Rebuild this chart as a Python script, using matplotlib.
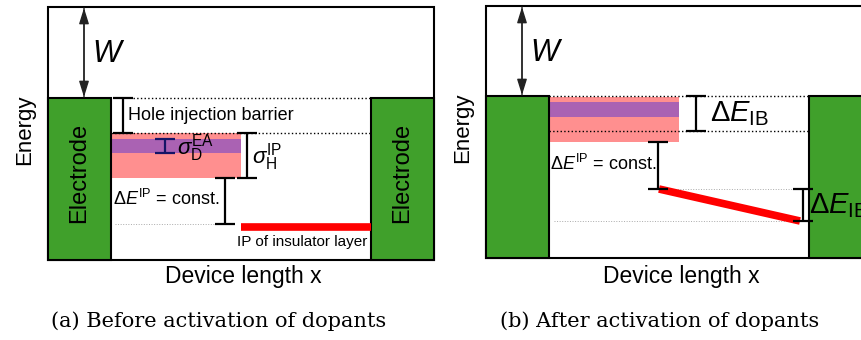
import matplotlib
matplotlib.use("Agg")
from matplotlib import pyplot as plt
from matplotlib.patches import Rectangle

# Schematic coordinates in pixels (x to the right, y downward = deeper energy)
box_left = [48, 486]
box_top = [7, 6]
box_bottom = [260, 258]
electrode_top = [98, 96]
electrode_w = 63
channel_w = 260

# panel (a): before activation
a_band = [133, 178]          # hole transport band (pink)
a_dopant = [139, 153]        # dopant EA band (purple)
a_band_right = 241
a_insulator_y = 227
a_insulator_ref = 224
a_dEip_x = 225
a_sigmaD_x = 165
a_sigmaH_x = 247
a_hib_x = 123

# panel (b): after activation
b_band = [97, 142]
b_dopant = [102, 117]
b_band_right = 679
b_ib_level = 131
b_insulator_start = (659, 189)
b_insulator_end = (800, 221)
b_dEib_x = 696
b_dEip_x = 658
b_dEib2_x = 803

green = "#40a02b"
pink = "#ff8f8f"
purple = "#aa62b3"
red = "#ff0000"

plt.rcParams["font.family"] = ["Liberation Sans", "DejaVu Sans"]
plt.rcParams["mathtext.fontset"] = "custom"
plt.rcParams["mathtext.rm"] = "Liberation Sans"
plt.rcParams["mathtext.it"] = "Liberation Sans:italic"
plt.rcParams["mathtext.bf"] = "Liberation Sans:bold"


def bar(ax, x, y0, y1, color="black", cap=7):
    ax.errorbar([x], [(y0 + y1) / 2], yerr=[[(y1 - y0) / 2]], fmt="none",
                ecolor=color, elinewidth=1.6, capsize=cap, capthick=1.6, zorder=5)


def frame(ax, i):
    x0 = box_left[i]
    ax.add_patch(Rectangle((x0, box_top[i]), 2 * electrode_w + channel_w,
                           box_bottom[i] - box_top[i], fc="white", ec="black", lw=1.5, zorder=1))
    for xe in (x0, x0 + electrode_w + channel_w):
        ax.add_patch(Rectangle((xe, electrode_top[i]), electrode_w,
                               box_bottom[i] - electrode_top[i], fc=green, ec="black", lw=1.5, zorder=3))
    # work function arrow
    ax.annotate("", xy=(x0 + 36, box_top[i] + 1), xytext=(x0 + 36, electrode_top[i] - 1),
                arrowprops=dict(arrowstyle="-|>,head_length=0.8,head_width=0.25", color="#222", lw=1.0,
                                mutation_scale=12, shrinkA=0, shrinkB=0), zorder=4)
    ax.annotate("", xy=(x0 + 36, electrode_top[i] - 1), xytext=(x0 + 36, box_top[i] + 1),
                arrowprops=dict(arrowstyle="-|>,head_length=0.8,head_width=0.25", color="#222", lw=1.0,
                                mutation_scale=12, shrinkA=0, shrinkB=0), zorder=4)
    ax.text(x0 + 44, (box_top[i] + electrode_top[i]) / 2 + 2, "$W$", fontsize=22,
            va="center", ha="left")
    ax.text(x0 - 23, (electrode_top[i] + box_bottom[i]) / 2 - 49, "Energy", fontsize=16,
            rotation=90, va="center", ha="center")
    ax.text(x0 + 195, 276, "Device length x", fontsize=16.5, ha="center", va="center")


fig = plt.figure(figsize=(8.62, 3.40), dpi=100)
ax = fig.add_axes([0, 0, 1, 1])
ax.set_xlim(0, 862)
ax.set_ylim(340, 0)
ax.axis("off")

# ---------- panel (a)
frame(ax, 0)
xl = box_left[0] + electrode_w
xr = xl + channel_w
for xe in (box_left[0], xr):
    ax.text(xe + electrode_w / 2, (electrode_top[0] + box_bottom[0]) / 2 - 6, "Electrode",
            rotation=90, fontsize=17, ha="center", va="center", zorder=4)
ax.add_patch(Rectangle((xl, a_band[0]), a_band_right - xl, a_band[1] - a_band[0],
                       fc=pink, ec="none", zorder=2))
ax.add_patch(Rectangle((xl, a_dopant[0]), a_band_right - xl, a_dopant[1] - a_dopant[0],
                       fc=purple, ec="none", zorder=2))
ax.plot([a_hib_x + 10, xr], [electrode_top[0]] * 2, ls=":", color="black", lw=1, zorder=2)
ax.plot([xl, xr], [a_band[0]] * 2, ls=":", color="black", lw=1, zorder=2)
ax.plot([xl + 4, a_dEip_x + 8], [a_insulator_ref] * 2, ls=":", color="#aaaaaa", lw=0.7, zorder=2)
ax.plot([a_band_right, xr], [a_insulator_y] * 2, color=red, lw=5.5, solid_capstyle="butt", zorder=4)
bar(ax, a_hib_x, electrode_top[0], a_band[0])
bar(ax, a_sigmaD_x, a_dopant[0], a_dopant[1], color="#141466")
bar(ax, a_sigmaH_x, a_band[0], a_band[1])
bar(ax, a_dEip_x, a_band[1], a_insulator_ref)
ax.text(a_hib_x + 5, 115, "Hole injection barrier", fontsize=13, va="center", ha="left")
ax.text(a_sigmaD_x + 12, 148, r"$\sigma_{\mathrm{D}}^{\mathrm{EA}}$", fontsize=16,
        va="center", ha="left", zorder=6)
ax.text(a_sigmaH_x + 5, 157, r"$\sigma_{\mathrm{H}}^{\mathrm{IP}}$", fontsize=16,
        va="center", ha="left")
ax.text(xl + 2, 199, r"$\Delta E^{\mathrm{IP}}$ = const.", fontsize=13, va="center", ha="left")
ax.text(xr - 4, 242, "IP of insulator layer", fontsize=11, va="center", ha="right")
ax.text(219, 321, "(a) Before activation of dopants", fontsize=15,
        family="DejaVu Serif", ha="center", va="center")

# ---------- panel (b)
frame(ax, 1)
xl = box_left[1] + electrode_w
xr = xl + channel_w
ax.add_patch(Rectangle((xl, b_band[0]), b_band_right - xl, b_band[1] - b_band[0],
                       fc=pink, ec="none", zorder=2))
ax.add_patch(Rectangle((xl, b_dopant[0]), b_band_right - xl, b_dopant[1] - b_dopant[0],
                       fc=purple, ec="none", zorder=2))
ax.plot([xl, xr], [electrode_top[1]] * 2, ls=":", color="black", lw=1, zorder=2)
ax.plot([xl, xr], [b_ib_level] * 2, ls=":", color="black", lw=1, zorder=2)
ax.plot([b_insulator_start[0] + 8, b_insulator_end[0]], [b_insulator_start[1]] * 2,
        ls=":", color="#aaaaaa", lw=0.7, zorder=2)
ax.plot([xl + 5, b_insulator_end[0]], [b_insulator_end[1]] * 2,
        ls=":", color="#aaaaaa", lw=0.7, zorder=2)
ax.plot([b_insulator_start[0], b_insulator_end[0]], [b_insulator_start[1], b_insulator_end[1]],
        color=red, lw=5.5, solid_capstyle="butt", zorder=4)
bar(ax, b_dEib_x, electrode_top[1], b_ib_level)
bar(ax, b_dEip_x, b_band[1], b_insulator_start[1])
bar(ax, b_dEib2_x, b_insulator_start[1], b_insulator_end[1])
ax.text(b_dEib_x + 14, 114, r"$\Delta E_{\mathrm{IB}}$", fontsize=21, va="center", ha="left")
ax.text(b_dEib2_x + 6, 206, r"$\Delta E_{\mathrm{IB}}$", fontsize=21, va="center", ha="left",
        zorder=6)
ax.text(xl + 1, 164, r"$\Delta E^{\mathrm{IP}}$ = const.", fontsize=13, va="center", ha="left")
ax.text(660, 321, "(b) After activation of dopants", fontsize=15,
        family="DejaVu Serif", ha="center", va="center")

fig.savefig("out.png", dpi=100)
